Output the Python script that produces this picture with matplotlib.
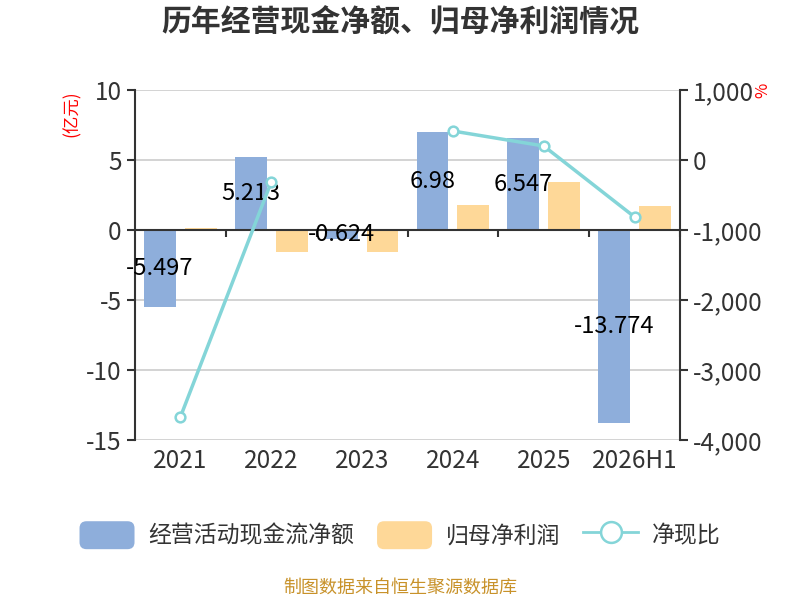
import numpy as np
import matplotlib
matplotlib.use("Agg")
import matplotlib.pyplot as plt
from matplotlib.patches import FancyBboxPatch, Rectangle
from matplotlib.lines import Line2D
from matplotlib.legend_handler import HandlerPatch

plt.rcParams['font.family'] = ['Noto Sans CJK SC', 'DejaVu Sans']
plt.rcParams['axes.unicode_minus'] = False

# data
years = ["2021", "2022", "2023", "2024", "2025", "2026H1"]
cash_flow = [-5.497, 5.213, -0.624, 6.98, 6.547, -13.774]
net_profit = [0.15, -1.6, -1.55, 1.8, 3.4, 1.7]
cash_ratio = [-3671, -314, np.nan, 414, 200, -814]

c_blue = "#8eaedb"
c_orange = "#fed898"
c_line = "#84d5d8"
c_text = "#333333"


class RoundHandler(HandlerPatch):
    def create_artists(self, legend, orig, xd, yd, width, height, fontsize, trans):
        p = FancyBboxPatch((-xd, -yd), width, height,
                           boxstyle="round,pad=0,rounding_size=%f" % (height * 0.25),
                           fc=orig.get_facecolor(), ec="none", transform=trans)
        return [p]


fig = plt.figure(figsize=(8, 6), dpi=100)
ax = fig.add_axes([0.16875, 0.2667, 0.68125, 0.5833])
ax2 = ax.twinx()

x = np.arange(len(years))
w = 0.35
off = 0.225
ax.bar(x - off, cash_flow, w, color=c_blue, zorder=2)
ax.bar(x + off, net_profit, w, color=c_orange, zorder=2)

for xi, v in zip(x, cash_flow):
    ax.text(xi - off, v / 2, f"{v:g}", ha="center", va="center",
            fontsize=17, color="black", zorder=5)

ax.set_xlim(-0.5, len(years) - 0.5)
ax.set_ylim(-15, 10)
ax.set_yticks([-15, -10, -5, 0, 5, 10])
ax.grid(axis="y", color="#cccccc", lw=1.2, zorder=0)
ax.set_axisbelow(True)

# x axis line at zero with boundary ticks
ax.spines["bottom"].set_position(("data", 0))
ax.spines["bottom"].set_color(c_text)
ax.spines["bottom"].set_linewidth(1.5)
ax.spines["top"].set_visible(False)
ax.spines["right"].set_visible(False)
ax.spines["left"].set_color(c_text)
ax.spines["left"].set_linewidth(1.5)
ax.set_xticks(x + 0.5)
ax.set_xticklabels([])
ax.tick_params(axis="x", length=5, width=1.5, color=c_text)
ax.tick_params(axis="y", length=6, width=1.5, color=c_text,
               labelsize=17.5, labelcolor=c_text)

sec = ax.secondary_xaxis(0)
sec.set_xticks(x)
sec.set_xticklabels(years)
sec.tick_params(length=0, pad=6, labelsize=17.5, labelcolor=c_text)
sec.spines["bottom"].set_visible(False)

ax2.plot(x, cash_ratio, color=c_line, lw=2.5, marker="o", ms=7,
         mfc="white", mec=c_line, mew=1.8, zorder=4)
ax2.set_ylim(-4000, 1000)
ax2.set_yticks([-4000, -3000, -2000, -1000, 0, 1000])
ax2.set_yticklabels([f"{int(t):,}" for t in ax2.get_yticks()])
for s in ["top", "left", "bottom"]:
    ax2.spines[s].set_visible(False)
ax2.spines["right"].set_color(c_text)
ax2.spines["right"].set_linewidth(1.5)
ax2.tick_params(axis="y", length=6, width=1.5, color=c_text,
                labelsize=17.5, labelcolor=c_text)

fig.text(0.5, 0.962, "历年经营现金净额、归母净利润情况", ha="center", va="center",
         fontsize=21.5, fontweight="bold", color=c_text)
fig.text(0.09, 0.81, "(亿元)", ha="center", va="center", rotation=90,
         fontsize=12.5, color="red")
fig.text(0.953, 0.85, "%", ha="center", va="center", rotation=90,
         fontsize=12, color="red")
fig.text(0.5, 0.02, "制图数据来自恒生聚源数据库", ha="center", va="center",
         fontsize=13, color="#c8922a")

handles = [
    Rectangle((0, 0), 1, 1, fc=c_blue),
    Rectangle((0, 0), 1, 1, fc=c_orange),
    Line2D([], [], color=c_line, lw=2, marker="o", ms=15, mfc="white",
           mec=c_line, mew=1.8),
]
fig.legend(handles, ["经营活动现金流净额", "归母净利润", "净现比"],
           loc="center", bbox_to_anchor=(0.5, 0.108), ncol=3, frameon=False,
           fontsize=16.5, handlelength=2.4, handleheight=1.5, columnspacing=1.0,
           handletextpad=0.6, labelcolor=c_text,
           handler_map={Rectangle: RoundHandler()})

fig.savefig("out.png", dpi=100)
